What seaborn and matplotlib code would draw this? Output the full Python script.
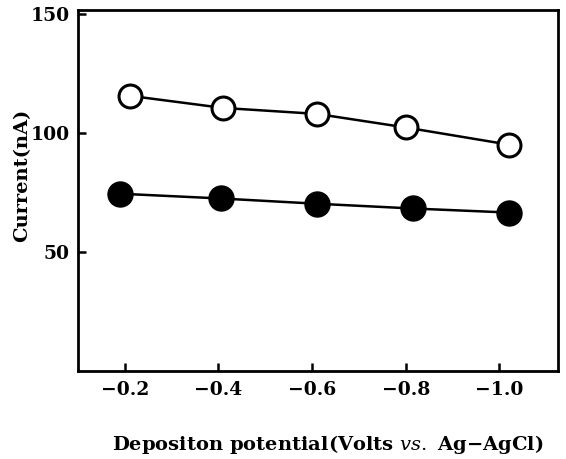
import matplotlib
matplotlib.use("Agg")
import matplotlib.pyplot as plt
import seaborn as sns
import pandas as pd

# Data
open_x = [-0.21, -0.41, -0.61, -0.80, -1.02]
open_y = [115.5, 110.4, 107.9, 102.2, 95.0]
filled_x = [-0.19, -0.405, -0.61, -0.815, -1.02]
filled_y = [74.4, 72.4, 70.2, 68.2, 66.5]
x_ticks = [-0.2, -0.4, -0.6, -0.8, -1.0]
x_tick_labels = ["\u22120.2", "\u22120.4", "\u22120.6", "\u22120.8", "\u22121.0"]
y_ticks = [50, 100, 150]

sns.set_style("ticks")
plt.rcParams['font.family'] = ['DejaVu Serif']
plt.rcParams['mathtext.fontset'] = 'dejavuserif'
plt.rcParams['text.color'] = 'black'
plt.rcParams['axes.labelcolor'] = 'black'
plt.rcParams['xtick.color'] = 'black'
plt.rcParams['ytick.color'] = 'black'
plt.rcParams['axes.edgecolor'] = 'black'

W, H = 566, 459
L, R, T, B = 78, 558, 10, 371
fig = plt.figure(figsize=(W/100, H/100), dpi=100)
ax = fig.add_axes([L/W, 1-B/H, (R-L)/W, (B-T)/H])

df_open = pd.DataFrame({"x": open_x, "y": open_y})
df_fill = pd.DataFrame({"x": filled_x, "y": filled_y})

sns.lineplot(data=df_open, x="x", y="y", ax=ax, color="black", lw=1.8,
             marker="o", markersize=16.5, markerfacecolor="white",
             markeredgecolor="black", markeredgewidth=2.2, sort=False, zorder=3)
sns.lineplot(data=df_fill, x="x", y="y", ax=ax, color="black", lw=1.8,
             marker="o", markersize=18, markerfacecolor="black",
             markeredgecolor="black", markeredgewidth=1, sort=False, zorder=3)

ax.set_xlim(-0.1, -1.125)
ax.set_ylim(0, 151.5)
ax.set_xticks(x_ticks)
ax.set_xticklabels(x_tick_labels)
ax.set_yticks(y_ticks)
ax.tick_params(direction="in", length=6, width=1.8, labelsize=13.5)
ax.tick_params(axis="x", pad=7)
ax.tick_params(axis="y", pad=6)
for lab in ax.get_xticklabels() + ax.get_yticklabels():
    lab.set_fontweight("bold")
for s in ax.spines.values():
    s.set_linewidth(2)
    s.set_visible(True)

ax.set_xlabel("Depositon potential(Volts $\\mathbf{\\mathit{vs.}}$ Ag\u2212AgCl)", fontsize=14,
              fontweight="bold")
ax.set_ylabel("Current(nA)", fontsize=14, fontweight="bold")
ax.xaxis.set_label_coords((328-L)/(R-L), (B-433)/(B-T))
ax.yaxis.set_label_coords((31-L)/(R-L), (B-175)/(B-T))

fig.savefig("out.png", dpi=100)
